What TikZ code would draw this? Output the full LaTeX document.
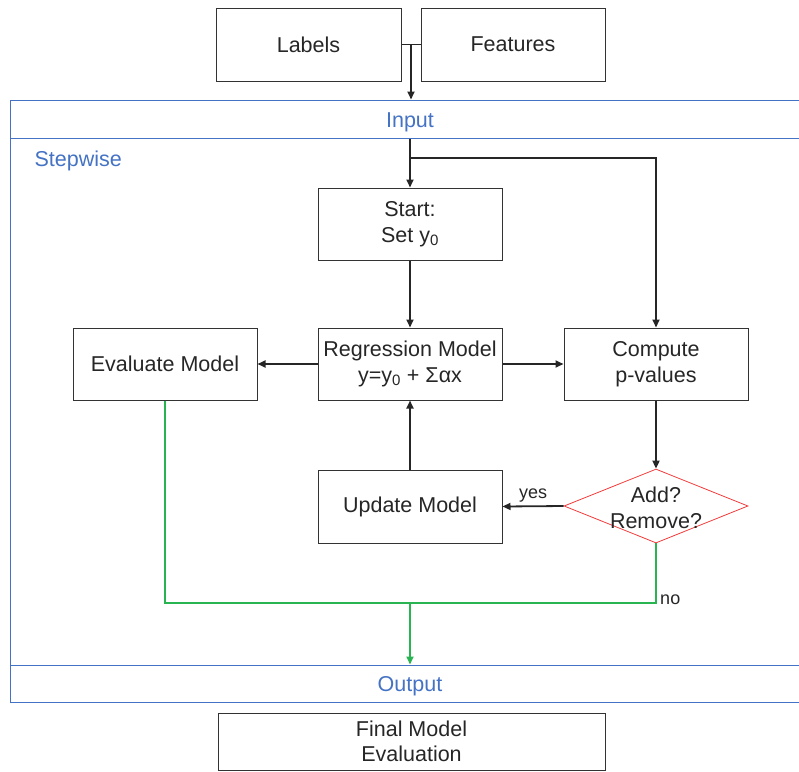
\documentclass[tikz,border=0pt]{standalone}
\usepackage{fontspec}
\setmainfont{Liberation Sans}
\usetikzlibrary{calc, arrows.meta, shapes.geometric}
\definecolor{frameblue}{RGB}{68,114,196}
\definecolor{flowgreen}{RGB}{40,180,80}
\definecolor{askred}{RGB}{240,60,60}
\begin{document}
\begin{tikzpicture}[x=1pt, y=-1pt,
  every node/.style={font=\fontsize{21.5pt}{25.5pt}\selectfont, text=black!85},
  box/.style={draw=black!80, line width=1pt, minimum width=184pt, minimum height=72pt,
    align=center, inner sep=0pt},
  band/.style={draw=frameblue, line width=1pt, minimum width=800pt, inner sep=0pt,
    text=frameblue},
  decide/.style={diamond, draw=askred, line width=0.8pt, minimum width=184pt,
    minimum height=74pt, inner sep=0pt},
  flow/.style={draw=black!85, line width=1.8pt, -{Triangle[length=8pt, width=7pt]}},
  noflow/.style={draw=flowgreen, line width=1.8pt},
  lbl/.style={font=\fontsize{18pt}{20pt}\selectfont},
]
  \useasboundingbox (0,0) rectangle (799,771);
  % outer frame (runs past the right edge)
  \draw[frameblue, line width=1pt] (10,100) rectangle (810,702);
  \node[band, minimum height=38pt] (input) at (410,119)
    {\raisebox{-3pt}[\height][\depth]{Input}};
  \node[band, minimum height=37pt] (output) at (410,683.5)
    {\raisebox{-3pt}[\height][\depth]{Output}};
  \node[anchor=west, text=frameblue] (stepwise) at (31,161) {Stepwise};
  % data
  \node[box, minimum width=185pt, minimum height=73pt] (labels) at (308.5,44.5) {Labels};
  \node[box, minimum height=73pt] (features) at (513,44.5) {Features};
  % stepwise loop
  \node[box] (start) at (410,224) {Start:\\Set y\textsubscript{0}};
  \node[box] (regress) at (410,364) {Regression Model\\y=y\textsubscript{0} + Σαx};
  \node[box] (evaluate) at (165,364) {Evaluate Model};
  \node[box] (compute) at (656,364) {Compute\\p-values};
  \node[box, minimum height=73pt] (update) at (410,506.5) {Update Model};
  \node[decide, label={[align=center, yshift=-2pt]center:Add?\\Remove?}] (ask) at (656,506) {};
  \node[box, minimum width=387pt, minimum height=57pt] (final) at (411.5,741.5)
    {Final Model\\Evaluation};
  \coordinate (join) at ($(labels.east)!0.5!(features.west)$);
  \coordinate (split) at (410,158);
  \coordinate (merge) at (410,603);
  % connectors
  \draw[draw=black!85, line width=1.8pt] (labels.east) -- (features.west);
  \draw[flow] (join) -- (join |- input.north);
  \draw[flow] (start.north |- input.south) -- (start.north);
  \draw[flow] (split) -| (compute.north);
  \draw[flow] (start) -- (regress);
  \draw[flow] (regress) -- (evaluate);
  \draw[flow] (regress) -- (compute);
  \draw[flow] (compute) -- (ask.north);
  \draw[flow] (ask.west) -- node[above, lbl] {yes} (update.east);
  \draw[flow] (update) -- (regress);
  % green exit
  \draw[noflow] (evaluate.south) |- (merge);
  \draw[noflow] (ask.south) -- node[right, lbl, pos=0.95] {no} (ask.south |- merge) -- (merge);
  \draw[noflow, -{Triangle[length=8pt, width=7pt]}] (merge) -- (merge |- output.north);
\end{tikzpicture}
\end{document}
